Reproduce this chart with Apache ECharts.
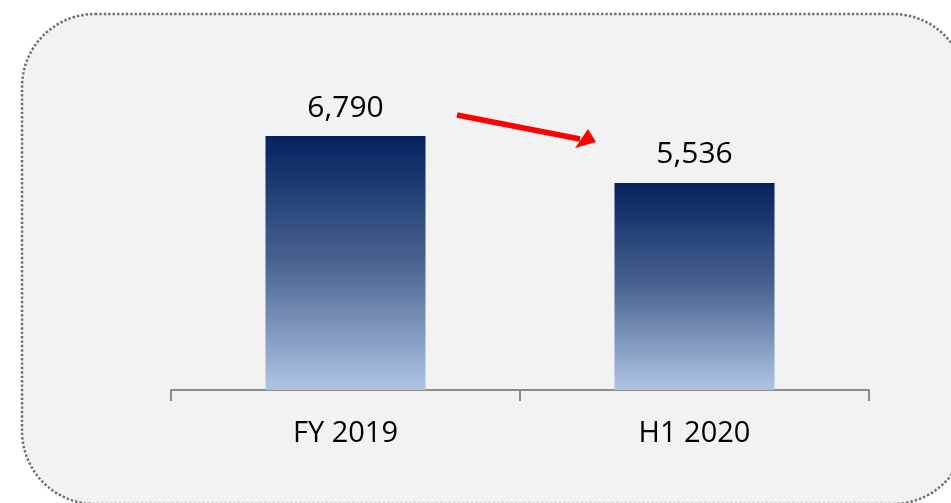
<!DOCTYPE html>
<html>
<head>
<meta charset="utf-8">
<script src="https://cdn.jsdelivr.net/npm/echarts@6/dist/echarts.min.js"></script>
<style>
  html, body { margin: 0; padding: 0; background: #ffffff; }
  #chart { width: 951px; height: 503px; }
</style>
</head>
<body>
<div id="chart"></div>
<script>
// data
const categories = ['FY 2019', 'H1 2020']
const values = [6790, 5536]

const chart = echarts.init(document.getElementById('chart'))

const barColor = new echarts.graphic.LinearGradient(0, 0, 0, 1, [
  { offset: 0, color: '#05215f' },
  { offset: 0.5, color: '#4a6491' },
  { offset: 1, color: '#afc5e6' }
])

chart.setOption({
  backgroundColor: '#ffffff',
  animation: false,
  textStyle: { fontFamily: 'Open Sans' },
  graphic: [
    {
      type: 'rect',
      z: -10,
      shape: { x: 22, y: 14, width: 944, height: 490, r: 73 },
      style: { fill: '#f2f2f2', stroke: '#6f6f6f', lineWidth: 2.5, lineDash: [2.4, 2] }
    },
    {
      // red arrow
      type: 'group',
      z: 10,
      children: [
        {
          type: 'line',
          shape: { x1: 457, y1: 115, x2: 580, y2: 139 },
          style: { stroke: '#ff0000', lineWidth: 5.5 }
        },
        {
          type: 'polygon',
          shape: { points: [[588, 129], [575, 148], [596, 142]] },
          style: { fill: '#ff0000' }
        }
      ]
    }
  ],
  grid: {
    left: 171,
    right: 82,
    top: 136,
    bottom: 113
  },
  xAxis: {
    type: 'category',
    data: categories,
    axisLine: { lineStyle: { color: '#8c8c8c', width: 2 } },
    axisTick: { show: true, length: 11, lineStyle: { color: '#8c8c8c', width: 2 } },
    axisLabel: { color: '#000000', fontSize: 29, margin: 29, fontFamily: 'Open Sans' }
  },
  yAxis: {
    type: 'value',
    min: 0,
    max: 6790,
    show: false,
    splitLine: { show: false }
  },
  series: [{
    type: 'bar',
    data: values,
    barWidth: 160,
    itemStyle: { color: barColor },
    label: {
      show: true,
      position: 'top',
      distance: 13,
      color: '#000000',
      fontSize: 30,
      fontFamily: 'Open Sans',
      formatter: (p) => p.value.toLocaleString('en-US')
    }
  }]
})
</script>
</body>
</html>
